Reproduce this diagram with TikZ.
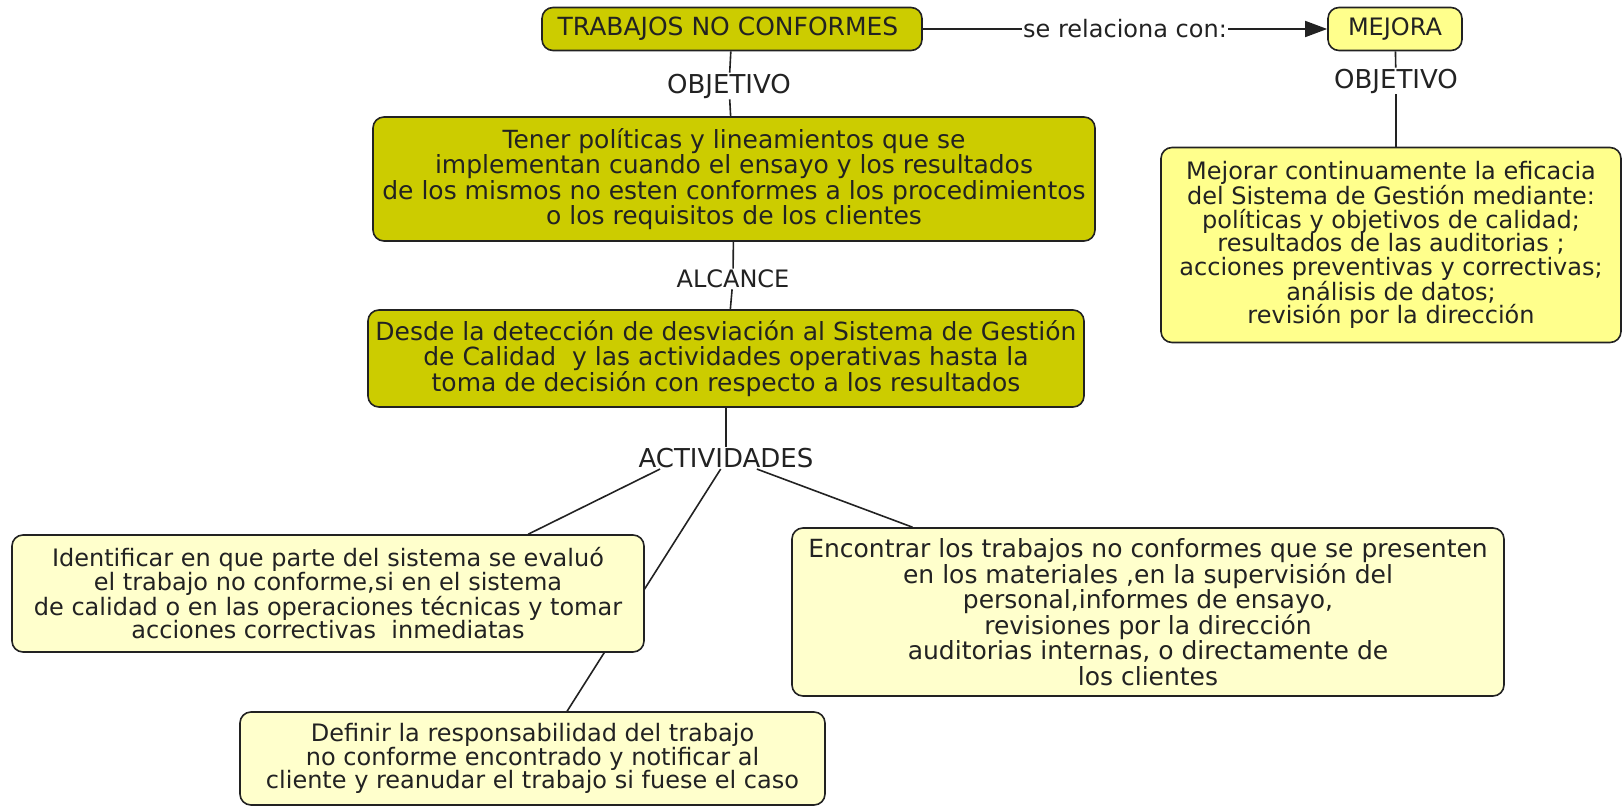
\documentclass[tikz,border=0pt]{standalone}
\usepackage{fontspec}
\setmainfont{DejaVu Sans}
\usetikzlibrary{arrows.meta,calc,backgrounds}
\definecolor{boxolive}{HTML}{CCCC00}
\definecolor{boxyellow}{HTML}{FFFF8C}
\definecolor{boxpale}{HTML}{FFFFCC}
\definecolor{inkgray}{HTML}{222222}
\begin{document}
\begin{tikzpicture}[x=1pt,y=-1pt,
  box/.style={draw=inkgray, line width=1.6pt, rounded corners=11pt, inner sep=0pt, align=center, text=inkgray},
  vfont/.style={font=\fontsize{24}{23.4}\selectfont},
  tfont/.style={font=\fontsize{25}{25.5}\selectfont},
  lbl/.style={inner sep=1pt, text=inkgray, font=\fontsize{24}{24}\selectfont},
  biglbl/.style={lbl, font=\fontsize{26}{26}\selectfont},
  conn/.style={draw=inkgray, line width=1.6pt}]
\useasboundingbox (0,0) rectangle (1623,806);

\node[box, font=\fontsize{25}{25}\selectfont, fill=boxolive, minimum width=380pt, minimum height=43pt] (tnc) at (732,29) {TRABAJOS NO CONFORMES\hspace{8pt}};
\node[box, vfont, fill=boxyellow, minimum width=134pt, minimum height=43pt] (mej) at (1395,29) {MEJORA};
\node[lbl] (rel) at (1125,29) {se relaciona con:};
\node[biglbl] (obj1) at (729,86) {OBJETIVO};
\node[biglbl] (obj2) at (1396,81) {OBJETIVO};
\node[box, vfont, fill=boxyellow, minimum width=460pt, minimum height=195pt] (mjr) at (1391,245)
 {Mejorar continuamente la eficacia\\del Sistema de Gestión mediante:\\políticas y objetivos de calidad;\\resultados de las auditorias ;\\acciones preventivas y correctivas;\\análisis de datos;\\revisión por la dirección};
\node[box, tfont, fill=boxolive, minimum width=722pt, minimum height=124pt] (ten) at (734,179)
 {Tener políticas y lineamientos que se\\implementan cuando el ensayo y los resultados\\de los mismos no esten conformes a los procedimientos\\o los requisitos de los clientes};
\node[lbl] (alc) at (733,279) {ALCANCE};
\node[box, tfont, fill=boxolive, minimum width=716pt, minimum height=97pt] (des) at (726,358.5)
 {Desde la detección de desviación al Sistema de Gestión\\de Calidad\ \ y las actividades operativas hasta la\\toma de decisión con respecto a los resultados};
\node[biglbl] (act) at (726,458) {ACTIVIDADES};
\node[box, vfont, fill=boxpale, minimum width=632pt, minimum height=117pt] (idn) at (328,593.5)
 {Identificar en que parte del sistema se evaluó\\el trabajo no conforme,si en el sistema\\de calidad o en las operaciones técnicas y tomar\\acciones correctivas\ \ inmediatas};
\node[box, tfont, fill=boxpale, minimum width=712pt, minimum height=168pt] (enc) at (1148,612)
 {Encontrar los trabajos no conformes que se presenten\\en los materiales ,en la supervisión del\\personal,informes de ensayo,\\revisiones por la dirección\\auditorias internas, o directamente de\\los clientes};
\node[box, vfont, fill=boxpale, minimum width=585pt, minimum height=93pt] (def) at (532.5,758.5)
 {Definir la responsabilidad del trabajo\\no conforme encontrado y notificar al\\cliente y reanudar el trabajo si fuese el caso};

\begin{scope}[on background layer]
\draw[conn] (tnc) -- (obj1);
\draw[conn] (obj1) -- (ten);
\draw[conn] (mej) -- (obj2);
\draw[conn] (obj2) -- (obj2 |- mjr.north);
\draw[conn] (ten) -- (alc);
\draw[conn] (alc) -- (des);
\draw[conn] (des) -- (act);
\draw[conn] ($(act.south west)!0.128!(act.south east)$) -- ($(idn.north west)!0.816!(idn.north east)$);
\draw[conn] ($(act.south west)!0.47!(act.south east)$) -- ($(def.north west)!0.559!(def.north east)$);
\draw[conn] ($(act.south west)!0.674!(act.south east)$) -- ($(enc.north west)!0.17!(enc.north east)$);
\draw[conn] (tnc.east) -- (rel.west);
\draw[conn, -{Triangle[length=22pt,width=16pt]}] (rel.east) -- (mej.west);
\end{scope}
\end{tikzpicture}
\end{document}
